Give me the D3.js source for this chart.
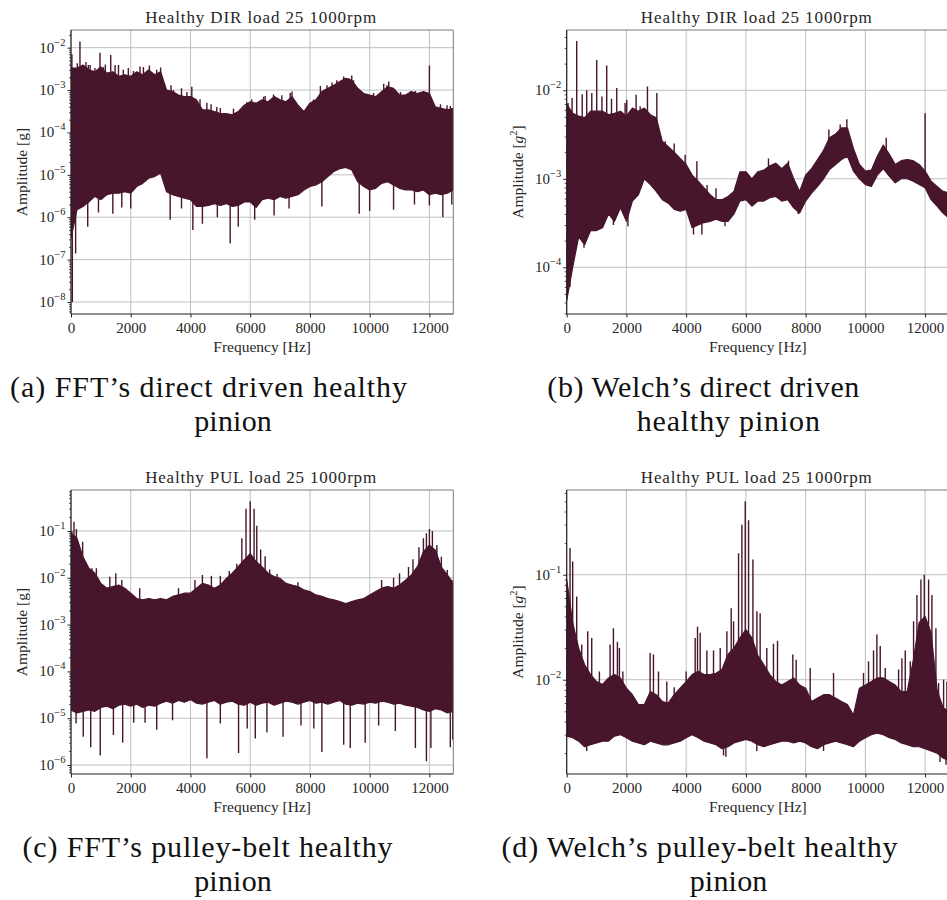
<!DOCTYPE html>
<html>
<head>
<meta charset="utf-8">
<script src="https://cdn.jsdelivr.net/npm/d3@7"></script>
<style>
  body { margin: 0; background: #ffffff; }
  svg { display: block; }
</style>
</head>
<body>
<svg id="fig" width="947" height="900"></svg>
<script>
// ---------------------------------------------------------------------------
// Spectra of a healthy pinion (load 25, 1000 rpm).
// Each spectrum is described by its lower and upper amplitude envelope,
// sampled every 200 Hz from 0 to 12800 Hz, plus isolated spectral lines
// (peaks above the envelope) and deep notches (dips below it): [Hz, amplitude].
// ---------------------------------------------------------------------------
const freqStep = 200;
const freqs = d3.range(0, 12800 + 1, freqStep);

// (a) FFT, direct driven  [g]
const dirFftUpper = [3.3e-3, 3.3e-3, 3.9e-3, 3.0e-3, 2.7e-3, 3.5e-3, 2.5e-3, 2.7e-3, 2.1e-3, 2.3e-3,
  2.1e-3, 2.7e-3, 2.3e-3, 3.0e-3, 2.3e-3, 2.7e-3, 1.0e-3, 9.2e-4, 7.6e-4, 7.0e-4,
  7.0e-4, 5.9e-4, 3.4e-4, 3.4e-4, 3.1e-4, 2.8e-4, 2.8e-4, 2.6e-4, 3.1e-4, 4.4e-4,
  5.3e-4, 4.9e-4, 5.9e-4, 5.3e-4, 7.0e-4, 5.9e-4, 5.3e-4, 7.0e-4, 4.4e-4, 3.1e-4,
  4.9e-4, 5.9e-4, 9.2e-4, 1.1e-3, 1.3e-3, 1.6e-3, 1.9e-3, 1.7e-3, 1.1e-3, 8.3e-4,
  7.6e-4, 7.0e-4, 9.2e-4, 1.2e-3, 1.1e-3, 7.6e-4, 7.6e-4, 9.2e-4, 8.3e-4, 9.2e-4,
  8.3e-4, 4.0e-4, 3.7e-4, 3.4e-4, 3.7e-4];
const dirFftLower = [3.2e-7, 1.5e-6, 1.8e-6, 2.3e-6, 3.1e-6, 2.6e-6, 3.4e-6, 3.7e-6, 3.7e-6, 4.0e-6,
  3.7e-6, 5.3e-6, 6.3e-6, 8.3e-6, 9.1e-6, 1.1e-5, 4.0e-6, 3.4e-6, 3.1e-6, 2.8e-6,
  2.6e-6, 1.8e-6, 1.8e-6, 1.9e-6, 2.1e-6, 1.9e-6, 2.1e-6, 1.8e-6, 1.9e-6, 2.3e-6,
  2.3e-6, 1.7e-6, 2.6e-6, 2.8e-6, 2.6e-6, 3.1e-6, 2.8e-6, 3.1e-6, 3.4e-6, 4.4e-6,
  5.3e-6, 5.8e-6, 6.9e-6, 9.1e-6, 1.2e-5, 1.4e-5, 1.5e-5, 1.3e-5, 6.9e-6, 5.3e-6,
  4.4e-6, 4.8e-6, 6.3e-6, 6.9e-6, 5.8e-6, 4.8e-6, 4.4e-6, 4.4e-6, 4.0e-6, 4.4e-6,
  3.4e-6, 3.7e-6, 3.4e-6, 3.7e-6, 4.4e-6];
const dirFftPeaks = [[30, 7.0e-3], [210, 4.3e-3], [300, 1.4e-2], [500, 4.6e-3], [580, 3.9e-3],
  [640, 3.9e-3], [800, 3.3e-3], [970, 7.6e-3], [1085, 3.5e-3], [1150, 4.0e-3], [1330, 6.7e-3],
  [1475, 3.9e-3], [1590, 3.9e-3], [1750, 3.0e-3], [1920, 3.3e-3], [2090, 2.8e-3],
  [2310, 3.6e-3], [2425, 3.5e-3], [2625, 3.8e-3], [2870, 3.0e-3], [3000, 3.4e-3],
  [3350, 1.3e-3], [3430, 1.0e-3], [3700, 1.1e-3], [3880, 9.0e-4], [4045, 1.2e-3],
  [4320, 6.1e-4], [4550, 5.0e-4], [4690, 4.6e-4], [4880, 4.0e-4], [5000, 3.8e-4],
  [5440, 3.6e-4], [5890, 5.2e-4], [6050, 6.0e-4], [6450, 7.0e-4], [6500, 7.2e-4],
  [6780, 7.9e-4], [7060, 7.5e-4], [7340, 8.5e-4], [7400, 9.2e-4], [8120, 6.0e-4],
  [8350, 1.25e-3], [8570, 1.3e-3], [8740, 1.5e-3], [8900, 1.7e-3], [9130, 2.1e-3],
  [9300, 1.9e-3], [9400, 2.2e-3], [9460, 1.7e-3], [10130, 8.5e-4], [10470, 1.4e-3],
  [10580, 1.3e-3], [10640, 1.6e-3], [11030, 9.0e-4], [11360, 9.3e-4], [11530, 9.5e-4],
  [11700, 9.0e-4], [12000, 3.8e-3], [12370, 4.6e-4], [12590, 4.4e-4], [12700, 4.2e-4]];
const dirFftDips = [[45, 1.0e-8], [155, 1.4e-7], [560, 6.0e-7], [920, 1.3e-6], [1400, 1.2e-6],
  [1700, 1.7e-6], [2000, 1.6e-6], [3320, 8.7e-7], [3700, 1.6e-6], [4080, 5.0e-7],
  [4400, 7.0e-7], [4900, 1.0e-6], [5330, 2.4e-7], [5600, 6.0e-7], [6150, 8.7e-7],
  [6800, 1.1e-6], [7300, 1.6e-6], [8400, 1.8e-6], [9650, 1.2e-6], [10000, 1.4e-6],
  [10800, 1.5e-6], [11500, 2.0e-6], [12000, 1.9e-6], [12450, 1.0e-6], [12750, 2.0e-6]];

// (b) Welch, direct driven  [g^2]
const dirWelchUpper = [7.0e-3, 5.5e-3, 5.1e-3, 4.9e-3, 5.8e-3, 5.8e-3, 5.8e-3, 5.3e-3, 5.5e-3, 5.8e-3,
  5.1e-3, 6.3e-3, 5.8e-3, 6.3e-3, 5.3e-3, 4.9e-3, 2.65e-3, 2.3e-3, 2.0e-3, 1.7e-3,
  1.45e-3, 1.1e-3, 9.4e-4, 7.9e-4, 6.6e-4, 5.8e-4, 5.8e-4, 6.3e-4, 7.2e-4, 1.2e-3,
  1.2e-3, 1.0e-3, 1.2e-3, 1.25e-3, 1.4e-3, 1.5e-3, 1.3e-3, 1.5e-3, 1.0e-3, 7.2e-4,
  1.1e-3, 1.3e-3, 1.65e-3, 2.1e-3, 2.9e-3, 3.2e-3, 3.75e-3, 3.75e-3, 2.2e-3, 1.45e-3,
  1.22e-3, 1.25e-3, 1.8e-3, 2.4e-3, 1.9e-3, 1.45e-3, 1.6e-3, 1.65e-3, 1.6e-3, 1.45e-3,
  1.22e-3, 9.4e-4, 8.2e-4, 7.2e-4, 6.9e-4];
const dirWelchLower = [4.2e-5, 1.0e-4, 2.2e-4, 1.8e-4, 2.6e-4, 2.6e-4, 2.8e-4, 4.0e-4, 3.3e-4, 4.7e-4,
  3.3e-4, 5.6e-4, 6.6e-4, 1.0e-3, 8.6e-4, 7.2e-4, 5.8e-4, 5.3e-4, 4.5e-4, 4.3e-4,
  4.5e-4, 2.8e-4, 3.0e-4, 3.2e-4, 3.3e-4, 3.5e-4, 3.3e-4, 3.3e-4, 4.0e-4, 5.6e-4,
  5.8e-4, 4.9e-4, 5.6e-4, 5.6e-4, 6.1e-4, 6.3e-4, 5.6e-4, 5.8e-4, 4.7e-4, 4.1e-4,
  5.6e-4, 6.9e-4, 8.2e-4, 1.0e-3, 1.27e-3, 1.45e-3, 1.65e-3, 1.8e-3, 1.22e-3, 1.0e-3,
  8.6e-4, 8.2e-4, 1.1e-3, 1.3e-3, 1.07e-3, 9.0e-4, 1.0e-3, 1.0e-3, 9.4e-4, 8.6e-4,
  7.9e-4, 5.8e-4, 4.9e-4, 4.1e-4, 3.6e-4];
const dirWelchPeaks = [[45, 7.2e-3], [180, 8.2e-3], [335, 3.6e-2], [520, 9.0e-3], [670, 1.0e-2],
  [840, 9.3e-3], [1005, 2.2e-2], [1180, 8.5e-3], [1340, 1.9e-2], [1500, 8.0e-3],
  [1676, 1.06e-2], [1955, 7.2e-3], [2010, 7.8e-3], [2324, 8.9e-3], [2460, 6.6e-3],
  [2704, 1.1e-2], [3017, 9.3e-3], [3300, 2.65e-3], [3600, 2.5e-3], [3966, 1.87e-3],
  [4358, 1.58e-3], [4700, 8.5e-4], [5000, 7.8e-4], [6756, 1.7e-3], [7426, 1.6e-3],
  [8777, 3.6e-3], [9157, 4.1e-3], [9380, 4.7e-3], [10698, 2.9e-3], [12000, 5.5e-3]];
const dirWelchDips = [[110, 6.0e-5], [580, 1.66e-4], [1564, 3.0e-4], [2050, 2.9e-4],
  [4245, 2.34e-4], [4525, 2.34e-4], [5300, 2.9e-4], [7750, 4.0e-4]];

// (c) FFT, pulley-belt  [g]
const pulFftUpper = [0.09, 0.07, 0.028, 0.016, 0.0125, 7.6e-3, 6.0e-3, 6.5e-3, 7.0e-3, 6.0e-3,
  4.7e-3, 3.6e-3, 3.4e-3, 3.6e-3, 3.4e-3, 3.6e-3, 3.4e-3, 4.0e-3, 4.3e-3, 4.7e-3,
  4.7e-3, 6.0e-3, 7.6e-3, 7.0e-3, 6.0e-3, 7.0e-3, 9.7e-3, 0.0125, 0.0173, 0.024,
  0.033, 0.022, 0.017, 0.0125, 0.0106, 9.7e-3, 7.6e-3, 7.0e-3, 6.5e-3, 5.5e-3,
  5.1e-3, 4.3e-3, 4.0e-3, 3.6e-3, 3.4e-3, 3.1e-3, 2.8e-3, 3.1e-3, 3.4e-3, 3.6e-3,
  4.3e-3, 5.1e-3, 6.0e-3, 6.5e-3, 6.0e-3, 7.0e-3, 8.9e-3, 0.0115, 0.0173, 0.036,
  0.05, 0.039, 0.017, 0.0115, 7.6e-3];
const pulFftLower = [1.5e-5, 1.3e-5, 1.4e-5, 1.5e-5, 1.4e-5, 1.7e-5, 1.8e-5, 1.6e-5, 1.9e-5, 2.0e-5,
  1.8e-5, 2.0e-5, 1.7e-5, 1.9e-5, 1.8e-5, 2.1e-5, 2.3e-5, 2.1e-5, 2.4e-5, 2.2e-5,
  2.5e-5, 2.1e-5, 2.0e-5, 2.2e-5, 2.4e-5, 2.0e-5, 2.2e-5, 2.3e-5, 2.0e-5, 1.9e-5,
  2.2e-5, 1.9e-5, 2.1e-5, 2.2e-5, 1.9e-5, 2.1e-5, 2.3e-5, 2.2e-5, 2.0e-5, 2.2e-5,
  2.4e-5, 2.1e-5, 2.2e-5, 2.0e-5, 2.2e-5, 2.4e-5, 2.0e-5, 1.9e-5, 2.1e-5, 2.0e-5,
  2.2e-5, 2.1e-5, 2.3e-5, 2.2e-5, 2.0e-5, 2.1e-5, 1.9e-5, 1.8e-5, 1.7e-5, 1.5e-5,
  1.4e-5, 1.6e-5, 1.5e-5, 1.3e-5, 1.4e-5];
const pulFftPeaks = [[30, 0.1], [100, 0.158], [180, 0.11], [390, 0.059], [700, 0.016], [850, 0.016],
  [1300, 0.0105], [1500, 0.0125], [1700, 9.0e-3], [2300, 6.0e-3], [3600, 6.0e-3],
  [4150, 9.0e-3], [4400, 0.0115], [4700, 0.011], [5000, 0.011], [5300, 0.014],
  [5550, 0.02], [5720, 0.07], [5860, 0.3], [6000, 0.43], [6130, 0.3], [6220, 0.13],
  [6350, 0.04], [6500, 0.029], [6650, 0.015], [6900, 0.012], [7600, 8.0e-3],
  [10400, 9.0e-3], [10800, 0.01], [11000, 0.0125], [11300, 0.017], [11450, 0.025],
  [11650, 0.045], [11800, 0.07], [11900, 0.09], [12000, 0.11], [12100, 0.1],
  [12250, 0.05], [12400, 0.028], [12600, 0.0147], [12750, 9.0e-3]];
const pulFftDips = [[170, 7.7e-6], [410, 4.0e-6], [660, 2.4e-6], [980, 1.6e-6], [1420, 4.4e-6],
  [1730, 3.0e-6], [2100, 8.0e-6], [2480, 8.0e-6], [2870, 5.7e-6], [3400, 9.0e-6],
  [4550, 1.4e-6], [5000, 7.7e-6], [5610, 1.8e-6], [5900, 6.0e-6], [6170, 3.7e-6],
  [6560, 5.0e-6], [7100, 4.0e-6], [7700, 7.0e-6], [8130, 6.0e-6], [8400, 1.9e-6],
  [9130, 2.7e-6], [9350, 2.3e-6], [9850, 3.0e-6], [10300, 7.0e-6], [10860, 5.3e-6],
  [11530, 2.3e-6], [11900, 1.2e-6], [12050, 2.3e-6], [12700, 2.4e-6], [12780, 3.5e-6]];

// (d) Welch, pulley-belt  [g^2]
const pulWelchUpper = [0.09, 0.035, 0.02, 0.0139, 0.0112, 9.6e-3, 9.0e-3, 0.0104, 0.0112, 0.0104,
  8.3e-3, 7.2e-3, 5.8e-3, 5.8e-3, 7.7e-3, 7.2e-3, 6.2e-3, 6.0e-3, 7.2e-3, 8.3e-3,
  9.6e-3, 0.0112, 0.012, 0.0112, 0.0112, 0.0115, 0.0125, 0.0174, 0.02, 0.025,
  0.03, 0.025, 0.017, 0.0139, 0.0112, 9.6e-3, 8.9e-3, 9.6e-3, 0.0104, 8.9e-3,
  8.3e-3, 6.2e-3, 6.7e-3, 7.2e-3, 7.2e-3, 6.7e-3, 6.2e-3, 5.8e-3, 4.6e-3, 8.3e-3,
  8.9e-3, 9.6e-3, 0.0104, 0.0104, 9.6e-3, 8.9e-3, 7.7e-3, 7.7e-3, 0.015, 0.035,
  0.04, 0.028, 8.0e-3, 5.4e-3, 5.0e-3];
const pulWelchLower = [2.9e-3, 2.8e-3, 2.6e-3, 2.3e-3, 2.4e-3, 2.5e-3, 2.6e-3, 2.6e-3, 2.9e-3, 3.0e-3,
  2.8e-3, 2.6e-3, 2.5e-3, 2.4e-3, 2.6e-3, 2.5e-3, 2.4e-3, 2.4e-3, 2.5e-3, 2.6e-3,
  2.8e-3, 3.0e-3, 2.8e-3, 2.6e-3, 2.5e-3, 2.4e-3, 2.2e-3, 2.3e-3, 2.5e-3, 2.6e-3,
  2.7e-3, 2.6e-3, 2.4e-3, 2.3e-3, 2.4e-3, 2.5e-3, 2.6e-3, 2.6e-3, 2.5e-3, 2.6e-3,
  2.5e-3, 2.3e-3, 2.2e-3, 2.4e-3, 2.5e-3, 2.6e-3, 2.5e-3, 2.4e-3, 2.3e-3, 2.6e-3,
  2.8e-3, 3.0e-3, 3.1e-3, 3.0e-3, 2.8e-3, 2.7e-3, 2.5e-3, 2.4e-3, 2.3e-3, 2.3e-3,
  2.2e-3, 2.1e-3, 2.0e-3, 1.8e-3, 1.7e-3];
const pulWelchPeaks = [[112, 0.18], [200, 0.134], [335, 0.062], [503, 0.0216], [704, 0.029],
  [838, 0.025], [1095, 0.012], [1453, 0.0216], [1564, 0.031], [1698, 0.023], [1765, 0.02],
  [1880, 0.012], [2793, 0.018], [2905, 0.0174], [3073, 0.012], [3352, 9.6e-3],
  [3600, 8.5e-3], [4000, 0.012], [4302, 0.025], [4380, 0.032], [4469, 0.028],
  [4693, 0.019], [4916, 0.019], [5140, 0.02], [5363, 0.029], [5508, 0.048], [5587, 0.036],
  [5754, 0.16], [5866, 0.30], [5978, 0.50], [6089, 0.33], [6235, 0.14], [6369, 0.045],
  [6477, 0.043], [6700, 0.02], [6923, 0.022], [7058, 0.0235], [7571, 0.0174],
  [7683, 0.0155], [8152, 0.0129], [8934, 0.0116], [9938, 0.0116], [10106, 0.015],
  [10273, 0.019], [10385, 0.027], [10497, 0.021], [10665, 0.0129], [11112, 0.0125],
  [11224, 0.016], [11335, 0.019], [11503, 0.015], [11614, 0.036], [11726, 0.064],
  [11860, 0.09], [11972, 0.10], [12117, 0.09], [12228, 0.064], [12362, 0.031],
  [12452, 9.3e-3], [12619, 0.01], [12730, 9.6e-3]];
const pulWelchDips = [[670, 2.1e-3], [5251, 1.9e-3], [5330, 1.85e-3], [6365, 2.1e-3],
  [8600, 2.1e-3], [12500, 1.65e-3], [12700, 1.55e-3]];

// Axis ticks and labels
const xTickValues = [0, 2000, 4000, 6000, 8000, 10000, 12000];
const xTickLabels = ["0", "2000", "4000", "6000", "8000", "10000", "12000"];
const dirFftDecades = [-8, -7, -6, -5, -4, -3, -2];
const dirWelchDecades = [-4, -3, -2];
const pulFftDecades = [-6, -5, -4, -3, -2, -1];
const pulWelchDecades = [-2, -1];

const panelTitles = ["Healthy DIR load 25 1000rpm", "Healthy DIR load 25 1000rpm",
  "Healthy PUL load 25 1000rpm", "Healthy PUL load 25 1000rpm"];
const xAxisLabel = "Frequency [Hz]";
const captions = [
  ["(a) FFT\u2019s direct driven healthy", "pinion"],
  ["(b) Welch\u2019s direct driven", "healthy pinion"],
  ["(c) FFT\u2019s pulley-belt healthy", "pinion"],
  ["(d) Welch\u2019s pulley-belt healthy", "pinion"]
];

// ---------------------------------------------------------------------------
// Layout and style
// ---------------------------------------------------------------------------
const FONT = "'Liberation Serif', 'Times New Roman', serif";
const INK = "#47152c";
const TEXT = "#262626";
const PW = 382.3, PH = 284;

const panels = [
  { key: "a", left: 71, top: 30, yExp: [-8.283, -1.583], decades: dirFftDecades,
    upper: dirFftUpper, lower: dirFftLower, peaks: dirFftPeaks, dips: dirFftDips,
    title: panelTitles[0], squared: false, yLabelX: 26.5,
    cap: captions[0], cap1: { cx: 208.5, w: 397 }, cap2: { cx: 233, w: 77.7 }, capY: 396.7 },
  { key: "b", left: 566.7, top: 30, yExp: [-4.528, -1.319], decades: dirWelchDecades,
    upper: dirWelchUpper, lower: dirWelchLower, peaks: dirWelchPeaks, dips: dirWelchDips,
    title: panelTitles[1], squared: true, yLabelX: 522.5,
    cap: captions[1], cap1: { cx: 703.3, w: 312 }, cap2: { cx: 728.3, w: 183.3 }, capY: 396.7 },
  { key: "c", left: 71, top: 490, yExp: [-6.192, -0.124], decades: pulFftDecades,
    upper: pulFftUpper, lower: pulFftLower, peaks: pulFftPeaks, dips: pulFftDips,
    title: panelTitles[2], squared: false, yLabelX: 26.5,
    cap: captions[2], cap1: { cx: 207.5, w: 370 }, cap2: { cx: 233, w: 77.7 }, capY: 856.7 },
  { key: "d", left: 566.7, top: 490, yExp: [-2.898, -0.193], decades: pulWelchDecades,
    upper: pulWelchUpper, lower: pulWelchLower, peaks: pulWelchPeaks, dips: pulWelchDips,
    title: panelTitles[3], squared: true, yLabelX: 522.5,
    cap: captions[3], cap1: { cx: 699.5, w: 396 }, cap2: { cx: 728.5, w: 77.7 }, capY: 856.7 }
];

const svg = d3.select("#fig");
const defs = svg.append("defs");

function drawPanel(p) {
  const right = p.left + PW, bottom = p.top + PH;
  const x = d3.scaleLinear().domain([0, 12800]).range([p.left, right]);
  const y = d3.scaleLog()
    .domain([Math.pow(10, p.yExp[0]), Math.pow(10, p.yExp[1])])
    .range([bottom, p.top]);

  const g = svg.append("g").attr("class", "panel-" + p.key);

  defs.append("clipPath").attr("id", "clip-" + p.key)
    .append("rect").attr("x", p.left).attr("y", p.top).attr("width", PW).attr("height", PH);

  // grid
  const grid = g.append("g").attr("stroke", "#bfbfbf").attr("stroke-width", 1);
  grid.selectAll("line.gx").data(xTickValues).join("line").attr("class", "gx")
    .attr("x1", d => x(d)).attr("x2", d => x(d)).attr("y1", p.top).attr("y2", bottom);
  grid.selectAll("line.gy").data(p.decades).join("line").attr("class", "gy")
    .attr("x1", p.left).attr("x2", right)
    .attr("y1", d => y(Math.pow(10, d))).attr("y2", d => y(Math.pow(10, d)));

  // spectrum band
  const plot = g.append("g").attr("clip-path", `url(#clip-${p.key})`);
  const rows = freqs.map((f, i) => ({ f, lo: p.lower[i], hi: p.upper[i] }));
  const band = d3.area().x(d => x(d.f)).y0(d => y(d.lo)).y1(d => y(d.hi));
  plot.append("path").datum(rows).attr("d", band)
    .attr("fill", INK).attr("stroke", INK).attr("stroke-width", 1.2).attr("stroke-linejoin", "round");

  const centre = f => {
    const i = Math.max(0, Math.min(freqs.length - 1, Math.round(f / freqStep)));
    return Math.sqrt(p.lower[i] * p.upper[i]);
  };
  plot.selectAll("line.pk").data(p.peaks).join("line").attr("class", "pk")
    .attr("x1", d => x(d[0])).attr("x2", d => x(d[0]))
    .attr("y1", d => y(centre(d[0]))).attr("y2", d => y(d[1]))
    .attr("stroke", INK).attr("stroke-width", 1.4);
  plot.selectAll("line.dp").data(p.dips).join("line").attr("class", "dp")
    .attr("x1", d => x(d[0])).attr("x2", d => x(d[0]))
    .attr("y1", d => y(centre(d[0]))).attr("y2", d => y(d[1]))
    .attr("stroke", INK).attr("stroke-width", 1.4);

  // x axis
  const xAxis = d3.axisBottom(x).tickValues(xTickValues)
    .tickFormat((d, i) => xTickLabels[i]).tickSize(3.5).tickPadding(5);
  const ax = g.append("g").attr("transform", `translate(0,${bottom})`).call(xAxis);
  ax.select(".domain").remove();
  ax.selectAll("line").attr("stroke", "#222");
  ax.selectAll("text").attr("font-family", FONT).attr("font-size", 15).attr("fill", TEXT);

  // y axis: major and minor ticks
  const majors = p.decades.map(k => Math.pow(10, k));
  const minors = [];
  for (let k = Math.floor(p.yExp[0]); k <= Math.ceil(p.yExp[1]); k++) {
    for (let m = 2; m <= 9; m++) {
      const v = m * Math.pow(10, k), e = Math.log10(v);
      if (e >= p.yExp[0] && e <= p.yExp[1]) minors.push(v);
    }
  }
  const ayMaj = g.append("g").attr("transform", `translate(${p.left},0)`)
    .call(d3.axisLeft(y).tickValues(majors).tickFormat(() => "").tickSize(3.5));
  ayMaj.select(".domain").remove();
  ayMaj.selectAll("line").attr("stroke", "#222");
  const ayMin = g.append("g").attr("transform", `translate(${p.left},0)`)
    .call(d3.axisLeft(y).tickValues(minors).tickFormat(() => "").tickSize(2));
  ayMin.select(".domain").remove();
  ayMin.selectAll("line").attr("stroke", "#222").attr("stroke-width", 0.8);

  const yl = g.append("g").attr("font-family", FONT).attr("fill", TEXT);
  p.decades.forEach(k => {
    const t = yl.append("text").attr("x", p.left - 5.5)
      .attr("y", y(Math.pow(10, k)) + 5).attr("text-anchor", "end").attr("font-size", 15);
    t.append("tspan").text("10");
    t.append("tspan").attr("dy", -7).attr("font-size", 10.5)
      .text(k < 0 ? "\u2212" + (-k) : String(k));
  });

  // spines
  const sp = g.append("g");
  sp.append("line").attr("x1", p.left).attr("x2", right).attr("y1", p.top).attr("y2", p.top)
    .attr("stroke", "#7a7a7a").attr("stroke-width", 1);
  sp.append("line").attr("x1", right).attr("x2", right).attr("y1", p.top).attr("y2", bottom)
    .attr("stroke", "#7a7a7a").attr("stroke-width", 1);
  sp.append("line").attr("x1", p.left).attr("x2", p.left).attr("y1", p.top).attr("y2", bottom)
    .attr("stroke", "#222").attr("stroke-width", 1.2);
  sp.append("line").attr("x1", p.left).attr("x2", right).attr("y1", bottom).attr("y2", bottom)
    .attr("stroke", "#222").attr("stroke-width", 1.2);

  // title and axis labels
  const cx = (p.left + right) / 2;
  g.append("text").attr("x", cx - 1.5).attr("y", p.top - 7.5)
    .attr("text-anchor", "middle").attr("font-family", FONT).attr("font-size", 17)
    .attr("fill", TEXT).attr("textLength", 231).attr("lengthAdjust", "spacing")
    .text(p.title);
  g.append("text").attr("x", cx).attr("y", bottom + 38)
    .attr("text-anchor", "middle").attr("font-family", FONT).attr("font-size", 15.5)
    .attr("fill", TEXT).text(xAxisLabel);

  const ylab = g.append("text")
    .attr("transform", `translate(${p.yLabelX},${(p.top + bottom) / 2}) rotate(-90)`)
    .attr("text-anchor", "middle").attr("font-family", FONT).attr("font-size", 15.5)
    .attr("fill", TEXT);
  if (p.squared) {
    ylab.append("tspan").text("Amplitude [");
    ylab.append("tspan").attr("font-style", "italic").text("g");
    ylab.append("tspan").attr("dy", -6).attr("font-size", 10.5).text("2");
    ylab.append("tspan").attr("dy", 6).text("]");
  } else {
    ylab.text("Amplitude [g]");
  }

  // caption
  const cap = svg.append("g").attr("font-family", FONT).attr("font-size", 30).attr("fill", "#111");
  cap.append("text").attr("x", p.cap1.cx).attr("y", p.capY).attr("text-anchor", "middle")
    .attr("textLength", p.cap1.w).attr("lengthAdjust", "spacing").text(p.cap[0]);
  cap.append("text").attr("x", p.cap2.cx).attr("y", p.capY + 34).attr("text-anchor", "middle")
    .attr("textLength", p.cap2.w).attr("lengthAdjust", "spacing").text(p.cap[1]);
}

panels.forEach(drawPanel);
</script>
</body>
</html>
